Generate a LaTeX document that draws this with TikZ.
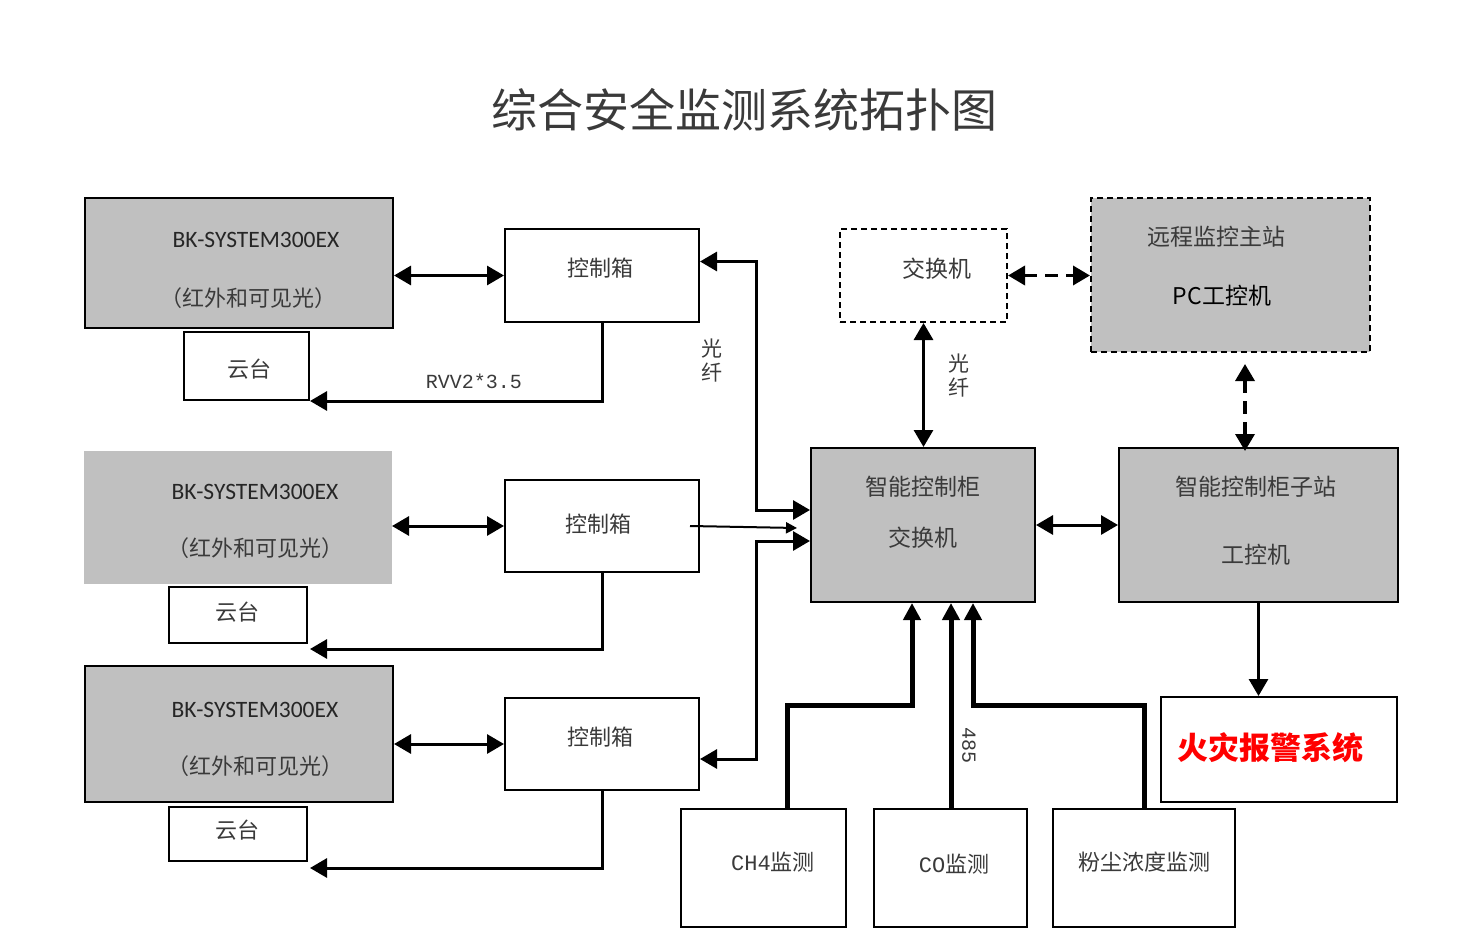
\documentclass[tikz,border=0pt]{standalone}
\usepackage{fontspec}
\setmainfont{Carlito}
\newfontfamily\cjk{Noto Sans CJK SC}
\newfontfamily\monof{Liberation Mono}
\usetikzlibrary{arrows.meta}
\definecolor{boxgray}{HTML}{C0C0C0}
\definecolor{txtgray}{HTML}{3A3A3A}
\begin{document}
\begin{tikzpicture}[x=1pt,y=-1pt,
  box/.style={draw=black, line width=2pt, fill=white, inner sep=0pt, anchor=north west},
  graybox/.style={box, fill=boxgray},
  dbox/.style={box, dash pattern=on 6pt off 4pt},
  txt/.style={inner sep=0pt, text=txtgray, font=\cjk\fontsize{22}{26}\selectfont},
  lat/.style={inner sep=0pt, text=black!85, font=\fontsize{23.5}{27}\selectfont},
  conn/.style={line width=3pt, -{Triangle[length=17pt,width=19pt]}},
  dconn/.style={line width=3pt, {Triangle[length=17pt,width=19pt]}-{Triangle[length=17pt,width=19pt]}},
  sconn/.style={line width=5pt, -{Triangle[length=17pt,width=17pt]}},
  dashconn/.style={line width=3.5pt, dash pattern=on 13pt off 8pt, {Triangle[length=17pt,width=19pt]}-{Triangle[length=17pt,width=19pt]}},
]
\useasboundingbox[fill=white] (0,0) rectangle (1480,928);

% title
\node[inner sep=0pt, text=txtgray, font=\cjk\fontsize{46}{50}\selectfont] (title) at (744,110) {综合安全监测系统拓扑图};

% left column
\node[graybox, minimum width=308pt, minimum height=130pt] (bk1) at (84,197) {};
\node[box, minimum width=194pt, minimum height=93pt] (kz1) at (504,228) {};
\node[box, minimum width=125pt, minimum height=68pt] (yt1) at (183,331) {};
\node[graybox, draw=boxgray, minimum width=306pt, minimum height=131pt] (bk2) at (84,451) {};
\node[box, minimum width=194pt, minimum height=92pt] (kz2) at (504,479) {};
\node[box, minimum width=138pt, minimum height=56pt] (yt2) at (168,586) {};
\node[graybox, minimum width=308pt, minimum height=136pt] (bk3) at (84,665) {};
\node[box, minimum width=194pt, minimum height=92pt] (kz3) at (504,697) {};
\node[box, minimum width=138pt, minimum height=54pt] (yt3) at (168,806) {};

% right part
\node[graybox, minimum width=224pt, minimum height=154pt] (zn) at (810,447) {};
\node[dbox, minimum width=167pt, minimum height=93pt] (jh) at (839,228) {};
\node[dbox, fill=boxgray, minimum width=279pt, minimum height=154pt] (yc) at (1090,197) {};
\node[graybox, minimum width=279pt, minimum height=154pt] (zz) at (1118,447) {};
\node[box, minimum width=236pt, minimum height=105pt] (hz) at (1160,696) {};
\node[box, minimum width=165pt, minimum height=118pt] (ch4) at (680,808) {};
\node[box, minimum width=153pt, minimum height=118pt] (co) at (873,808) {};
\node[box, minimum width=182pt, minimum height=118pt] (fc) at (1052,808) {};

% texts
\node[lat] (bk1a) at (256,240) {BK-SYSTEM300EX};
\node[txt] (bk1b) at (248,298) {（红外和可见光）};
\node[lat] (bk2a) at (255,492) {BK-SYSTEM300EX};
\node[txt] (bk2b) at (255,548) {（红外和可见光）};
\node[lat] (bk3a) at (255,710) {BK-SYSTEM300EX};
\node[txt] (bk3b) at (255,766) {（红外和可见光）};
\node[txt] (kz1t) at (600,268) {控制箱};
\node[txt] (kz2t) at (598,524) {控制箱};
\node[txt] (kz3t) at (600,737) {控制箱};
\node[txt] (yt1t) at (249,369) {云台};
\node[txt] (yt2t) at (237,612) {云台};
\node[txt] (yt3t) at (237,830) {云台};
\node[txt, font=\cjk\fontsize{23}{27}\selectfont] (znt1) at (923,487) {智能控制柜};
\node[txt, font=\cjk\fontsize{23}{27}\selectfont] (znt2) at (923,538) {交换机};
\node[txt, font=\cjk\fontsize{23}{27}\selectfont] (jht) at (937,269) {交换机};
\node[txt, font=\cjk\fontsize{23}{27}\selectfont] (yct1) at (1216,237) {远程监控主站};
\node[inner sep=0pt, text=black, font=\cjk\fontsize{23}{27}\selectfont] (yct2) at (1222,296) {PC工控机};
\node[txt, font=\cjk\fontsize{23}{27}\selectfont] (zzt1) at (1256,487) {智能控制柜子站};
\node[txt, font=\cjk\fontsize{23}{27}\selectfont] (zzt2) at (1256,555) {工控机};
\node[inner sep=0pt, text=red, font=\cjk\bfseries\fontsize{31}{35}\selectfont] (hzt) at (1270,748) {火灾报警系统};
\node[txt] (ch4t) at (773,862) {{\monof CH4}监测};
\node[txt] (cot) at (954,864) {{\monof CO}监测};
\node[txt] (fct) at (1144,862) {粉尘浓度监测};

% labels
\node[inner sep=0pt, text=txtgray, font=\monof\fontsize{20}{24}\selectfont] (rvv) at (474,381) {RVV2*3.5};
\node[txt, align=center, font=\cjk\fontsize{21}{24}\selectfont] (gx1) at (712,361) {光\\纤};
\node[txt, align=center, font=\cjk\fontsize{21}{24}\selectfont] (gx2) at (959,376) {光\\纤};
\node[inner sep=0pt, text=txtgray, rotate=-90, font=\monof\fontsize{20}{24}\selectfont] (n485) at (969,745) {485};

% helper coordinates
\coordinate (c2) at (310,649);
\coordinate (c3) at (310,868);
\coordinate (vx) at (1245,0);
\coordinate (xa) at (787,0);
\coordinate (xb) at (912,0);
\coordinate (xc) at (951,0);
\coordinate (xd) at (973,0);
\coordinate (xe) at (1144,0);
\coordinate (yh) at (0,705);

% camera <-> control box
\draw[dconn] (kz1.west -| bk1.east) -- (kz1.west);
\draw[dconn] (kz2.west -| bk2.east) -- (kz2.west);
\draw[dconn] (kz3.west -| bk3.east) -- (kz3.west);

% control box -> pan/tilt
\draw[conn] (kz1.south) |- (yt1.south east);
\draw[conn] (kz2.south) |- (c2);
\draw[conn] (kz3.south) |- (c3);

% fibre to cabinet
\draw[dconn] ([yshift=14pt]kz1.east) -- ++(56,0) |- ([yshift=15pt]zn.west);
\draw[dconn] ([yshift=-15pt]kz3.east) -- ++(56,0) |- ([yshift=-16pt]zn.west);
\draw[line width=2pt, -{Triangle[length=11pt,width=11pt]}] ([xshift=-10pt]kz2.east) -- ([xshift=-13pt,yshift=-3pt]zn.west);

% switch connections
\draw[dconn] (jh.south) -- (jh.south |- zn.north);
\draw[dashconn] (jh.east) -- (jh.east -| yc.west);
\draw[dashconn, shorten <=11pt, shorten >=-4pt] (yc.south -| vx) -- (zz.north -| vx);
\draw[dconn] (zn.east) -- (zz.west);
\draw[conn] (zz.south) -- (zz.south |- hz.north);

% sensors
\draw[sconn] (ch4.north -| xa) -- (xa |- yh) -- (xb |- yh) -- (xb |- zn.south);
\draw[sconn] (co.north -| xc) -- (xc |- zn.south);
\draw[sconn] (fc.north -| xe) -- (xe |- yh) -- (xd |- yh) -- (xd |- zn.south);
\end{tikzpicture}
\end{document}
